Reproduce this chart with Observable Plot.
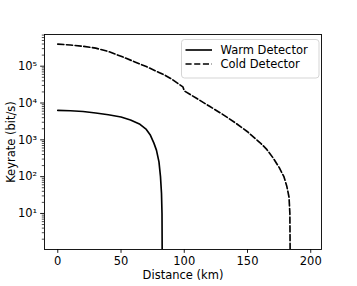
<!DOCTYPE html>
<html><head><meta charset="utf-8">
<script src="https://cdn.jsdelivr.net/npm/d3@7"></script>
<script src="https://cdn.jsdelivr.net/npm/@observablehq/plot@0.6"></script>
<style>
body{margin:0;background:#fff;}
#chart svg{font-family:"DejaVu Sans",sans-serif;}
</style>
</head><body><div id="chart"></div>
<script>
// ---- data ----
const seriesNames = ["Warm Detector", "Cold Detector"];
const warmDistance = [0, 10, 20, 30, 40, 50, 57.5, 65, 70, 73, 76, 78, 80, 81.2, 82, 82.4, 82.6];
const warmKeyrate  = [6310, 6170, 5890, 5370, 4790, 4170, 3470, 2630, 1910, 1380, 813, 525, 251, 100, 35.5, 10, 0.3];
const coldDistance = [0, 10, 20, 30, 40, 50, 60, 70, 80, 85, 90, 95, 98.9, 100, 110, 120, 130, 140, 150, 160, 165, 170, 175, 178.8, 181, 182.8, 183.5, 183.8];
const coldKeyrate  = [398000, 376000, 347000, 309000, 251000, 186000, 135000, 97700, 67600, 56200, 44700, 33900, 27500, 21400, 13200, 8130, 5010, 2950, 1660, 832, 562, 331, 178, 100, 56, 28, 10, 0.3];
const xTicks = [0, 50, 100, 150, 200];
const yTicks = [10, 100, 1000, 10000, 100000];
const yTickLabels = ["10\u00B9", "10\u00B2", "10\u00B3", "10\u2074", "10\u2075"];
const yMinorTicks = [];
for (const base of [1, 10, 100, 1000, 10000, 100000]) for (const m of [2,3,4,5,6,7,8,9]) yMinorTicks.push(base * m);
const xLabel = "Distance (km)";
const yLabel = "Keyrate (bit/s)";

const rows = [
  ...warmDistance.map((d, i) => ({series: seriesNames[0], distance: d, rate: warmKeyrate[i]})),
  ...coldDistance.map((d, i) => ({series: seriesNames[1], distance: d, rate: coldKeyrate[i]}))
];

const W = 357, H = 286;
const chart = Plot.plot({
  width: W, height: H,
  marginLeft: 44, marginRight: 36, marginTop: 34, marginBottom: 37,
  style: {fontSize: "11.5px", fontFamily: "DejaVu Sans, sans-serif", background: "#fff", color: "#000"},
  x: {domain: [-10.5, 208.5]},
  y: {type: "log", domain: [1.05, 7.26e5]},
  marks: [
    Plot.line(rows.filter(r => r.series === seriesNames[0]), {x: "distance", y: "rate", stroke: "#000", strokeWidth: 1.65, clip: true}),
    Plot.line(rows.filter(r => r.series === seriesNames[1]), {x: "distance", y: "rate", stroke: "#000", strokeWidth: 1.65, strokeDasharray: "6.1,2.6", clip: true}),
    Plot.axisX(xTicks, {tickSize: 3.85, tickPadding: 3, label: xLabel, labelAnchor: "center", labelArrow: "none", labelOffset: 29, strokeWidth: 0.9}),
    Plot.axisY(yMinorTicks.filter(v => v >= 1.05 && v <= 7.26e5), {tickSize: 2.2, strokeWidth: 0.7, tickFormat: () => "", label: null}),
    Plot.axisY(yTicks, {tickSize: 3.85, tickPadding: 3.5, strokeWidth: 0.9, tickFormat: d => yTickLabels[yTicks.indexOf(d)], label: yLabel, labelAnchor: "center", labelArrow: "none", labelOffset: 38}),
    Plot.frame({stroke: "#000", strokeWidth: 0.9})
  ]
});
document.getElementById("chart").appendChild(chart);

// legend (matplotlib-style box, upper right)
const svg = d3.select(chart);
const lg = svg.append("g").attr("font-family", "DejaVu Sans, sans-serif").attr("font-size", 11.5).attr("text-anchor", "start");
lg.append("rect").attr("x", 181.5).attr("y", 39.5).attr("width", 137.5).attr("height", 38.5)
  .attr("rx", 3).attr("fill", "#fff").attr("fill-opacity", 0.8).attr("stroke", "#d0d0d0").attr("stroke-width", 0.9);
const entries = [{name: seriesNames[0], dash: null, y: 50}, {name: seriesNames[1], dash: "6.1,2.6", y: 64}];
for (const e of entries) {
  lg.append("line").attr("x1", 185.5).attr("x2", 212).attr("y1", e.y).attr("y2", e.y)
    .attr("stroke", "#000").attr("stroke-width", 1.65).attr("stroke-dasharray", e.dash);
  lg.append("text").attr("x", 220.5).attr("y", e.y).attr("dy", "0.35em").attr("text-anchor", "start").attr("fill", "#000").text(e.name);
}
</script>
</body></html>
